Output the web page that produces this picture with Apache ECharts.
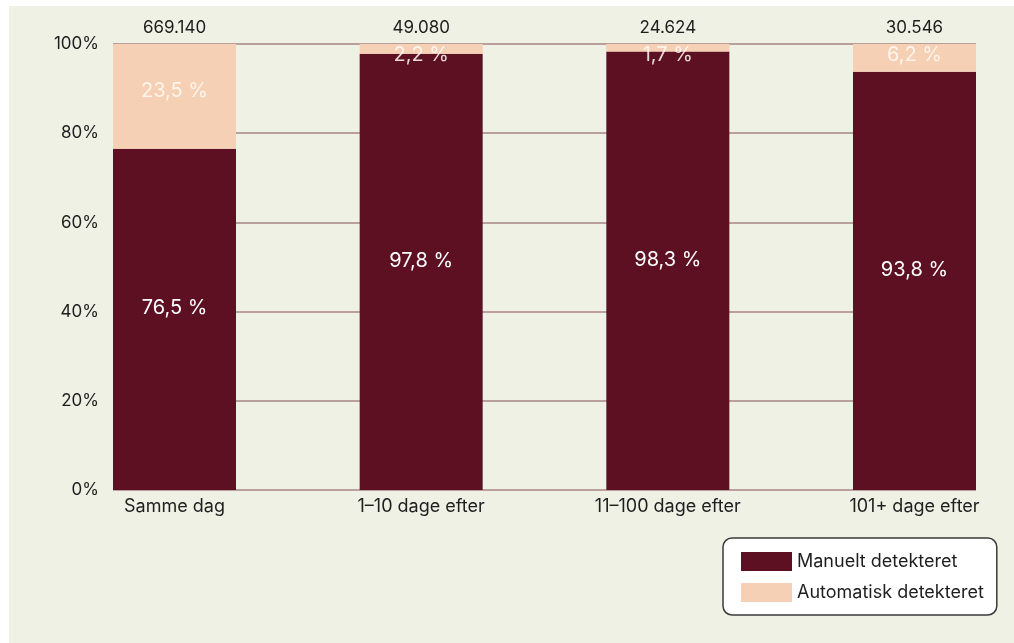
<!DOCTYPE html>
<html>
<head>
<meta charset="utf-8">
<style>
  html, body { margin: 0; padding: 0; background: #ffffff; }
  #chart { width: 1014px; height: 643px; }
</style>
<script src="https://cdn.jsdelivr.net/npm/echarts@6/dist/echarts.min.js"></script>
</head>
<body>
<div id="chart"></div>
<script>
// Time from creation to detection, share of cases
const categories = ['Samme dag', '1–10 dage efter', '11–100 dage efter', '101+ dage efter'];
const totals = ['669.140', '49.080', '24.624', '30.546'];
const manual = [76.5, 97.8, 98.3, 93.8];
const automatic = [23.5, 2.2, 1.7, 6.2];

const FONT = 'Inter';
const DARK = '#5c1022';
const LIGHT = '#f5d0b5';
const TEXT = '#1e1e1e';

const fmtPct = v => v.toFixed(1).replace('.', ',') + ' %';

const chart = echarts.init(document.getElementById('chart'), null, { renderer: 'canvas' });

const autoData = automatic.map(v => ({
  value: v,
  label: v < 10
    ? { position: 'insideTop', distance: 1 }
    : { position: 'inside', offset: [0, -5] }
}));

const hiddenAxis = {
  axisLine: { show: false },
  axisTick: { show: false },
  axisLabel: { show: false },
  splitLine: { show: false }
};

chart.setOption({
  backgroundColor: '#ffffff',
  animation: false,
  textStyle: { fontFamily: FONT },
  graphic: [{
    type: 'rect',
    z: -100,
    silent: true,
    shape: { x: 9, y: 6, width: 1005, height: 637 },
    style: { fill: '#eef1e3' }
  }],
  grid: [
    // full plotting frame: y scale and gridlines
    { left: 113, right: 38, top: 44, bottom: 153 },
    // bar centres: first and last category on the frame edges, bars overhang by half a width
    { left: 174.5, right: 99.5, top: 44, bottom: 153 }
  ],
  xAxis: [
    Object.assign({ type: 'value', gridIndex: 0, min: 0, max: 1 }, hiddenAxis),
    {
      type: 'category',
      gridIndex: 1,
      data: categories,
      boundaryGap: false,
      axisLine: { show: false },
      axisTick: { show: false },
      splitLine: { show: false },
      axisLabel: { color: TEXT, fontSize: 18, fontFamily: FONT, margin: 8, interval: 0 }
    },
    {
      type: 'category',
      gridIndex: 1,
      position: 'top',
      data: totals,
      boundaryGap: false,
      axisLine: { show: false },
      axisTick: { show: false },
      splitLine: { show: false },
      axisLabel: { color: TEXT, fontSize: 17, fontFamily: FONT, margin: 8, interval: 0 }
    }
  ],
  yAxis: [
    {
      type: 'value',
      gridIndex: 0,
      min: 0,
      max: 100,
      interval: 20,
      axisLine: { show: false },
      axisTick: { show: false },
      axisLabel: { formatter: v => v + '%', color: TEXT, fontSize: 17, fontFamily: FONT, margin: 14 },
      splitLine: { lineStyle: { color: '#a88484', width: 1.5 } }
    },
    Object.assign({ type: 'value', gridIndex: 1, min: 0, max: 100, interval: 20 }, hiddenAxis)
  ],
  legend: {
    orient: 'vertical',
    left: 723,
    top: 538,
    padding: [14, 13, 13, 18],
    itemWidth: 51,
    itemHeight: 19,
    itemGap: 12,
    icon: 'rect',
    backgroundColor: '#ffffff',
    borderColor: '#3a3a3a',
    borderWidth: 1.5,
    borderRadius: 9,
    textStyle: { color: TEXT, fontSize: 18, fontFamily: FONT },
    data: ['Manuelt detekteret', 'Automatisk detekteret']
  },
  series: [{
    name: 'Manuelt detekteret',
    type: 'bar',
    xAxisIndex: 1,
    yAxisIndex: 1,
    stack: 'andel',
    barWidth: 123,
    clip: false,
    itemStyle: { color: DARK },
    label: {
      show: true,
      position: 'inside',
      offset: [0, -11],
      color: '#ffffff',
      fontSize: 20,
      fontFamily: FONT,
      formatter: p => fmtPct(p.value)
    },
    data: manual
  }, {
    name: 'Automatisk detekteret',
    type: 'bar',
    xAxisIndex: 1,
    yAxisIndex: 1,
    stack: 'andel',
    barWidth: 123,
    clip: false,
    itemStyle: { color: LIGHT },
    label: {
      show: true,
      color: 'rgba(255,250,244,0.85)',
      fontSize: 20,
      fontFamily: FONT,
      formatter: p => fmtPct(p.value)
    },
    data: autoData
  }]
});
</script>
</body>
</html>
